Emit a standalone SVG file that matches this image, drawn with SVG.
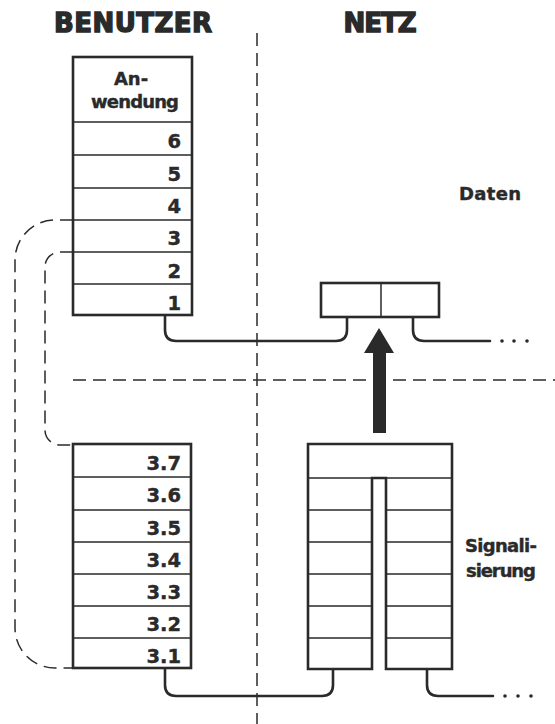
<svg xmlns="http://www.w3.org/2000/svg" width="555" height="724" viewBox="0 0 555 724">
<style>
.box{fill:#fff;stroke:#2a2a2a;stroke-width:2.6}
.row{stroke:#2a2a2a;stroke-width:1.5;fill:none}
.con{fill:none;stroke:#2a2a2a;stroke-width:2.6;stroke-linecap:round}
.dash{fill:none;stroke:#2a2a2a;stroke-width:1.5;stroke-dasharray:13 7}
.t{font-family:"DejaVu Sans",sans-serif;font-weight:bold;fill:#2a2a2a;stroke:#2a2a2a;stroke-width:0.4}
.n{font-size:19.5px;text-anchor:end}
.h{font-size:26px;text-anchor:middle;stroke-width:1.4}
.l{font-size:18px}
</style>
<rect width="555" height="724" fill="#fff"/>
<g id="dividers">
<line class="dash" x1="257" y1="33" x2="257" y2="724"/>
<line class="dash" x1="73" y1="380" x2="555" y2="380"/>
</g>
<text class="t h" x="133" y="32" textLength="158">BENUTZER</text>
<text class="t h" x="380" y="32" textLength="73">NETZ</text>
<text class="t l" x="459" y="200" textLength="62">Daten</text>
<text class="t l" x="465" y="552" textLength="72">Signali-</text>
<text class="t l" x="466" y="577" textLength="70">sierung</text>
<g id="connectors">
<path class="dash" d="M73 220 H55 A40 40 0 0 0 15 260 V628 A40 40 0 0 0 55 668 H73"/>
<path class="dash" d="M73 252 H60 A15 15 0 0 0 45 267 V430 A15 15 0 0 0 60 445 H73"/>
<path class="con" d="M165 315 V330 Q165 341 176 341 H336 Q347 341 347 330 V317"/>
<path class="con" d="M413 317 V330 Q413 341 424 341 H490"/>
<g fill="#2a2a2a"><circle cx="502" cy="341" r="1.8"/><circle cx="514" cy="341" r="1.8"/><circle cx="527" cy="341" r="1.8"/></g>
<path class="con" d="M165 668 V685 Q165 696 176 696 H322 Q333 696 333 685 V669"/>
<path class="con" d="M427 669 V685 Q427 696 438 696 H493"/>
<g fill="#2a2a2a"><circle cx="505" cy="696" r="1.8"/><circle cx="518" cy="696" r="1.8"/><circle cx="531" cy="696" r="1.8"/></g>
<polygon fill="#2a2a2a" points="373,433 386,433 386,353 394,353 379,328 364,353 373,353"/>
</g>
<g id="user-stack">
<rect class="box" x="73" y="57" width="119" height="258"/>
<path class="row" d="M73 122 H192 M73 155 H192 M73 188 H192 M73 220 H192 M73 252 H192 M73 284 H192"/>
<text class="t" font-size="18" text-anchor="middle" x="131" y="85">An-</text>
<text class="t" font-size="18" text-anchor="middle" x="135" y="108" textLength="88">wendung</text>
<text class="t n" x="181" y="148">6</text>
<text class="t n" x="181" y="181">5</text>
<text class="t n" x="181" y="213">4</text>
<text class="t n" x="181" y="245">3</text>
<text class="t n" x="181" y="278">2</text>
<text class="t n" x="181" y="310">1</text>
</g>
<g id="user-signalling">
<rect class="box" x="73" y="444" width="118" height="224"/>
<path class="row" d="M73 477 H191 M73 510 H191 M73 542 H191 M73 574 H191 M73 606 H191 M73 638 H191"/>
<text class="t n" x="181" y="470">3.7</text>
<text class="t n" x="181" y="502">3.6</text>
<text class="t n" x="181" y="535">3.5</text>
<text class="t n" x="181" y="567">3.4</text>
<text class="t n" x="181" y="599">3.3</text>
<text class="t n" x="181" y="631">3.2</text>
<text class="t n" x="181" y="663">3.1</text>
</g>
<g id="net-data">
<rect class="box" x="321" y="283" width="118" height="34"/>
<line class="row" x1="381" y1="283" x2="381" y2="317"/>
</g>
<g id="net-signalling">
<path class="box" d="M308 444 H452 V669 H386 V478 H372 V669 H308 Z"/>
<path class="row" d="M308 478 H452 M308 510 H372 M308 542 H372 M308 574 H372 M308 606 H372 M308 638 H372 M386 510 H452 M386 542 H452 M386 574 H452 M386 606 H452 M386 638 H452"/>
</g>
</svg>
